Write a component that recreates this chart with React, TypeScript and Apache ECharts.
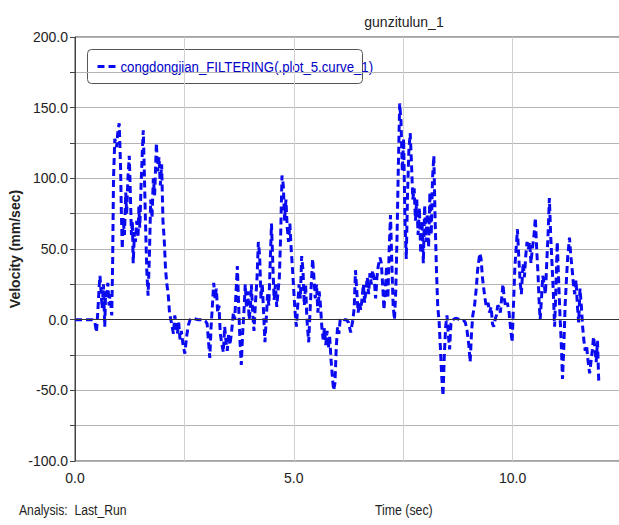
import React, { useEffect, useRef } from "react";
import * as echarts from "echarts";

const seriesName = "congdongjian_FILTERING(.plot_5.curve_1)";
const chartTitle = "gunzitulun_1";
const yAxisTitle = "Velocity (mm/sec)";
const xAxisTitle = "Time (sec)";
const analysisText = "Analysis:  Last_Run";

const time = [
  0, 0.1, 0.2, 0.3, 0.4, 0.45, 0.49, 0.52, 0.55, 0.57, 0.6, 0.62, 0.65, 0.68, 0.7, 0.72, 0.75, 0.78, 0.8, 0.84,
  0.86, 0.88, 0.91, 0.95, 0.98, 1.01, 1.04, 1.06, 1.08, 1.1, 1.13, 1.16, 1.18, 1.21, 1.24, 1.26, 1.29, 1.31, 1.33, 1.36,
  1.38, 1.41, 1.44, 1.46, 1.48, 1.51, 1.54, 1.56, 1.58, 1.61, 1.64, 1.67, 1.7, 1.73, 1.76, 1.79, 1.82, 1.86, 1.89, 1.92,
  1.95, 1.98, 2.01, 2.04, 2.07, 2.1, 2.13, 2.16, 2.19, 2.22, 2.25, 2.28, 2.31, 2.34, 2.37, 2.4, 2.43, 2.47, 2.51, 2.55,
  2.59, 2.63, 2.7, 2.8, 2.9, 2.98, 3.02, 3.05, 3.08, 3.11, 3.14, 3.17, 3.2, 3.23, 3.26, 3.29, 3.32, 3.36, 3.39, 3.42,
  3.45, 3.48, 3.51, 3.54, 3.58, 3.62, 3.65, 3.68, 3.71, 3.74, 3.77, 3.8, 3.83, 3.86, 3.89, 3.92, 3.95, 3.98,
  4.01, 4.03, 4.06, 4.09, 4.12, 4.16, 4.19, 4.22, 4.25, 4.28, 4.31, 4.34, 4.37, 4.4, 4.43, 4.46, 4.49, 4.52, 4.55, 4.58,
  4.61, 4.64, 4.67, 4.7, 4.73, 4.76, 4.79, 4.82, 4.85, 4.88, 4.91, 4.94, 4.97, 5.0, 5.03, 5.06, 5.09, 5.12, 5.15, 5.18,
  5.21, 5.24, 5.27, 5.3, 5.34, 5.37, 5.4, 5.43, 5.46, 5.49, 5.52, 5.55, 5.58, 5.61, 5.64, 5.67, 5.7, 5.73, 5.76, 5.79,
  5.82, 5.85, 5.88, 5.91, 5.94, 5.97, 6.0, 6.03, 6.06, 6.1, 6.15, 6.2, 6.25, 6.3, 6.35, 6.38,
  6.41, 6.44, 6.47, 6.5, 6.53, 6.56, 6.59, 6.62, 6.65, 6.68, 6.71, 6.74, 6.77, 6.8, 6.84, 6.87, 6.9, 6.93, 6.97, 7.0,
  7.03, 7.06, 7.09, 7.12, 7.15, 7.18, 7.21, 7.24, 7.27, 7.3, 7.33, 7.36, 7.39, 7.42, 7.45, 7.48, 7.51, 7.54, 7.57, 7.6,
  7.63, 7.66, 7.69, 7.72, 7.75, 7.78, 7.81, 7.84, 7.87, 7.9, 7.93, 7.96, 7.99, 8.02, 8.05, 8.08, 8.11, 8.14, 8.17, 8.2,
  8.23, 8.26, 8.29, 8.32, 8.35, 8.38, 8.41, 8.44, 8.47, 8.5, 8.53, 8.56, 8.59, 8.63, 8.7, 8.8, 8.87, 8.92, 8.96, 9.0,
  9.03, 9.06, 9.09, 9.13, 9.17, 9.2, 9.25, 9.28, 9.31, 9.34, 9.37, 9.4, 9.44, 9.47, 9.51, 9.54, 9.57, 9.6, 9.63, 9.66,
  9.69, 9.72, 9.75, 9.78, 9.81, 9.84, 9.88, 9.92, 9.95, 9.99, 10.02, 10.05, 10.08, 10.11, 10.14, 10.17, 10.2, 10.24, 10.27, 10.3,
  10.33, 10.36, 10.39, 10.42, 10.45, 10.49, 10.52, 10.55, 10.58, 10.61, 10.63, 10.66, 10.69, 10.72, 10.75, 10.78, 10.81, 10.84, 10.87, 10.9,
  10.93, 10.96, 10.99, 11.02, 11.05, 11.08, 11.11, 11.14, 11.17, 11.2, 11.23, 11.26, 11.3, 11.33, 11.36, 11.39, 11.42, 11.45, 11.48, 11.51,
  11.54, 11.57, 11.6, 11.63, 11.66, 11.69, 11.72, 11.76, 11.79, 11.82, 11.85, 11.88, 11.91, 11.94, 11.97,
];

const velocity = [
  0, 0, 0, 0, 0, -1, -9, 5, 22, 31, 18, 8, 25, -5, 20, 15, 26, 10, 18, 3,
  40, 100, 128, 122, 133, 139, 110, 75, 50, 72, 60, 90, 75, 100, 116, 95, 60, 70, 40, 62,
  55, 70, 58, 80, 65, 95, 120, 134, 110, 70, 35, 17, 45, 85, 72, 100, 88, 125, 105, 115,
  95, 110, 70, 56, 35, 25, 18, 5, 0, -5, -10, 3, -3, -10, -2, -14, -8, -18, -24, -12,
  -4, 0, 1, 0, 0, -1, -3, -15, -27, -5, 10, 26, 15, 22, 5, 10, -10, -18, -23, -5,
  -15, -22, -10, -18, -8, 5, 0, 20, 38, 10, -15, -32, -10, 5, 25, 8, 20, 0,
  10, 25, 5, -8, 10, 30, 55, 45, 15, 25, 5, -16, 0, 18, 10, 40, 68, 40, 14, 25,
  9, 20, 30, 60, 102, 95, 70, 85, 65, 55, 68, 50, 36, 20, 5, -5, 10, 25, 15, 45,
  35, 10, 25, 0, -16, 5, 25, 43, 30, 15, 25, 5, 20, 10, -5, -14, -6, -18, -8, -20,
  -12, -28, -40, -50, -45, -20, -5, -10, 0, 1, 0, 0, -2, -9, 0, 8,
  35, 20, 5, 12, 7, 15, 25, 12, 22, 30, 18, 33, 25, 35, 28, 15, 30, 38, 44, 40,
  25, 7, 20, 38, 15, 50, 74, 40, 10, 0, 20, 60, 110, 153, 140, 105, 128, 70, 43, 90,
  120, 132, 110, 85, 93, 70, 85, 60, 79, 47, 70, 40, 81, 55, 75, 51, 90, 60, 100, 116,
  70, 35, 9, -1, -20, -40, -54, -25, -5, 3, -10, -21, -3, 0, 1, 0, 0, -2, -8, -18,
  -30, -10, 3, 10, 22, 35, 47, 43, 30, 22, 15, 9, 12, 5, 9, -3, -5, 0, 3, 10,
  9, 5, 15, 25, 15, 9, 12, 5, -5, -16, 10, 36, 50, 64, 45, 28, 18, 40, 30, 45,
  55, 50, 55, 40, 50, 60, 72, 50, 33, 10, 0, 15, 31, 25, 18, 40, 60, 86, 60, 40,
  20, -5, 22, 55, 30, 5, -15, -42, -20, 10, 28, 45, 58, 45, 36, 25, 18, 28, 10, -2,
  22, 10, -5, -15, -22, -18, -28, -38, -30, -22, -12, -20, -30, -15, -45,
];

const yTicks = [-50, 0, 50, 100, 150, 200];
const yMinTick = -100;
const xTicks = [0, 5, 10];

const sans = "'Liberation Sans', Arial, sans-serif";
const lineColor = "#0a0af0";

export default function App() {
  const ref = useRef<HTMLDivElement>(null);
  useEffect(() => {
    if (!ref.current) return;
    const chart = echarts.init(ref.current, undefined, { renderer: "svg" });
    const data = time.map((t, i) => [t, velocity[i]]);
    chart.setOption({
      animation: false,
      backgroundColor: "#ffffff",
      grid: {
        left: 75,
        top: 37,
        bottom: 64,
        right: -3,
        outerBoundsMode: "none",
        containLabel: false,
        show: true,
        borderColor: "#444",
        borderWidth: 1,
      },
      xAxis: {
        type: "value",
        min: 0,
        max: 12.5,
        interval: 2.5,
        axisLine: { show: true, lineStyle: { color: "#444", width: 1 } },
        axisTick: { show: false },
        splitLine: { show: true, lineStyle: { color: "#d0d0d0", width: 1 } },
        axisLabel: {
          color: "#222",
          fontSize: 14,
          fontFamily: sans,
          margin: 10,
          hideOverlap: false,
          formatter: (v: number) => (xTicks.includes(v) ? v.toFixed(1) : ""),
        },
      },
      yAxis: [
        {
          type: "value",
          min: -100,
          max: 200,
          interval: 25,
          name: yAxisTitle,
          nameLocation: "middle",
          nameGap: 52,
          nameTextStyle: { fontSize: 14, fontWeight: "bold", color: "#222", fontFamily: sans },
          axisLine: { show: true, lineStyle: { color: "#444", width: 1 } },
          axisTick: { show: true, length: 5, lineStyle: { color: "#444" } },
          splitLine: { show: true, lineStyle: { color: "#b4b4b4", width: 1 } },
          axisLabel: {
            color: "#222",
            fontSize: 14,
            fontFamily: sans,
            margin: 7,
            formatter: (v: number) => (yTicks.includes(v) ? v.toFixed(1) : ""),
          },
        },
      ],
      title: {
        text: chartTitle,
        left: 399,
        top: 10,
        textAlign: "center",
        textStyle: { fontSize: 14, fontWeight: "normal", color: "#222", fontFamily: sans },
      },
      graphic: [
        {
          type: "group",
          left: 87,
          top: 49,
          z: 100,
          children: [
            {
              type: "rect",
              shape: { x: 0, y: 0, width: 275, height: 34, r: 4 },
              style: { fill: "#ffffff", stroke: "#555", lineWidth: 1 },
            },
            {
              type: "line",
              shape: { x1: 10, y1: 17, x2: 28, y2: 17 },
              style: { stroke: lineColor, lineWidth: 3, lineDash: [7, 4] },
            },
            {
              type: "text",
              x: 33,
              y: 17,
              scaleX: 0.88,
              style: {
                text: seriesName,
                fontSize: 15,
                fill: "#0000c8",
                fontFamily: sans,
                verticalAlign: "middle",
              },
            },
          ],
        },
        {
          type: "text",
          x: 68,
          y: 461,
          style: {
            text: yMinTick.toFixed(1),
            fontSize: 14,
            fill: "#222",
            fontFamily: sans,
            align: "right",
            verticalAlign: "middle",
          },
        },
        {
          type: "text",
          x: 19,
          y: 510,
          scaleX: 0.87,
          style: { text: analysisText, fontSize: 14, fill: "#222", fontFamily: sans, verticalAlign: "middle" },
        },
        {
          type: "text",
          x: 375,
          y: 510,
          scaleX: 0.88,
          style: { text: xAxisTitle, fontSize: 14, fill: "#222", fontFamily: sans, verticalAlign: "middle" },
        },
      ],
      series: [
        {
          name: seriesName,
          type: "line",
          data,
          showSymbol: false,
          symbol: "none",
          lineStyle: { color: lineColor, width: 3, type: [7, 4] },
          itemStyle: { color: lineColor },
          markLine: {
            silent: true,
            symbol: "none",
            label: { show: false },
            lineStyle: { color: "#333", type: "solid", width: 1.2 },
            data: [{ yAxis: 0 }],
          },
          z: 3,
        },
      ],
    });
    return () => chart.dispose();
  }, []);
  return (
    <div
      ref={ref}
      style={{ position: "absolute", left: 0, top: 0, width: 619, height: 525 }}
    />
  );
}
